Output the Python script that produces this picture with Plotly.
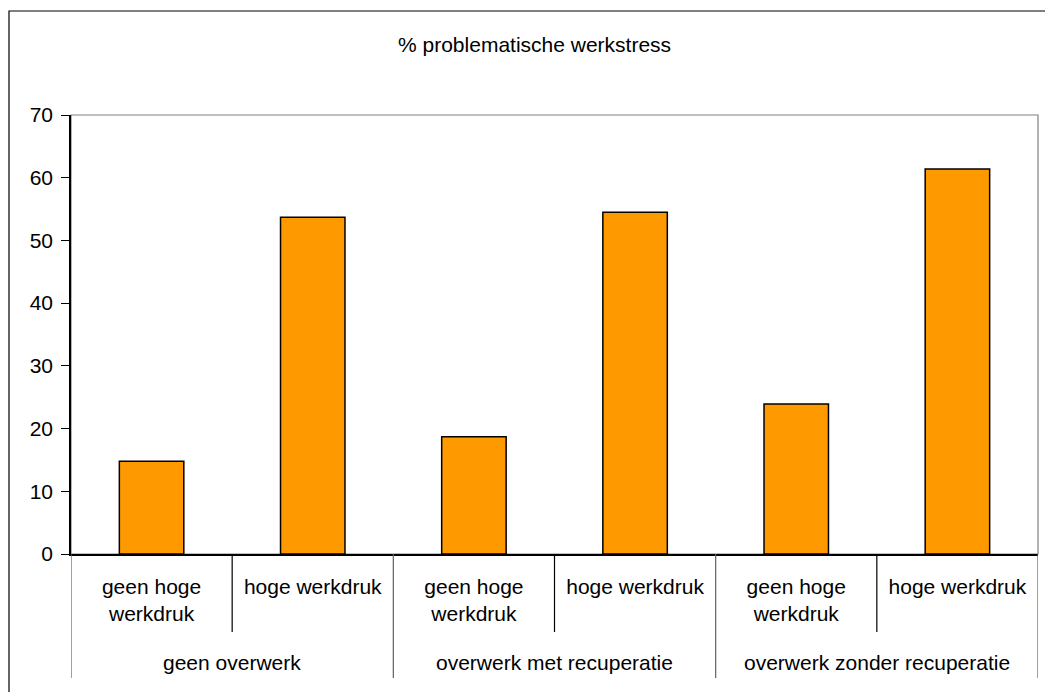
import plotly.graph_objects as go

# Data
groups = ["geen overwerk", "overwerk met recuperatie", "overwerk zonder recuperatie"]
subgroups = ["geen hoge<br>werkdruk", "hoge werkdruk"]
values = [14.8, 53.7, 18.7, 54.5, 23.9, 61.4]
y_ticks = [0, 10, 20, 30, 40, 50, 60, 70]
title_text = "% problematische werkstress"

W, H = 1045, 692
L, R, T, B = 71, 1038, 115, 554  # plot area in pixels
FONT = "Liberation Sans, Arial, sans-serif"
FS = 21


def px_x(p):
    return (p - L) / (R - L)


def px_y(p):
    return (B - p) / (B - T)


positions = list(range(len(values)))
tick_text = [subgroups[i % 2] for i in positions]

fig = go.Figure(
    go.Bar(
        x=positions,
        y=values,
        width=0.4,
        marker=dict(color="#FF9900", line=dict(color="#000000", width=1.5)),
        hoverinfo="y",
    )
)

shapes = []
# plot-area frame (grey top/right)
shapes.append(dict(type="rect", xref="paper", yref="paper", x0=0, x1=1, y0=0, y1=1,
                   line=dict(color="#808080", width=1.2), layer="below"))
# chart frame
shapes.append(dict(type="rect", xref="paper", yref="paper",
                   x0=px_x(9), x1=px_x(1065), y0=px_y(720), y1=px_y(11),
                   line=dict(color="#000000", width=1.2)))
# inner category separators
for xv in [0.5, 2.5, 4.5]:
    shapes.append(dict(type="line", xref="x", yref="paper", x0=xv, x1=xv,
                       y0=0, y1=px_y(632), line=dict(color="#000000", width=1.2)))
# outer group separators
for xv in [-0.5, 1.5, 3.5, 5.5]:
    shapes.append(dict(type="line", xref="x", yref="paper", x0=xv, x1=xv,
                       y0=0, y1=px_y(678), line=dict(color="#606060", width=1.2)))

annotations = [
    dict(text=title_text, xref="paper", yref="paper", x=px_x(534), y=px_y(44),
         showarrow=False, xanchor="center", yanchor="middle",
         font=dict(family=FONT, size=FS, color="#000000")),
]
for gi, g in enumerate(groups):
    annotations.append(dict(text=g, xref="x", yref="paper", x=2 * gi + 0.5, y=px_y(662),
                            showarrow=False, xanchor="center", yanchor="middle",
                            font=dict(family=FONT, size=FS, color="#000000")))

fig.update_layout(
    width=W, height=H,
    margin=dict(l=L, r=W - R, t=T, b=H - B),
    paper_bgcolor="white", plot_bgcolor="white",
    showlegend=False,
    bargap=0.6,
    shapes=shapes,
    annotations=annotations,
    font=dict(family=FONT, size=FS, color="#000000"),
)
fig.update_xaxes(
    range=[-0.5, 5.5], tickmode="array", tickvals=positions, ticktext=tick_text,
    showgrid=False, zeroline=False, showline=True, linecolor="#000000", linewidth=1.5,
    ticks="", ticklabelstandoff=13, tickfont=dict(family=FONT, size=FS),
)
fig.update_yaxes(
    range=[0, 70], tickmode="array", tickvals=y_ticks,
    showgrid=False, zeroline=False, showline=True, linecolor="#000000", linewidth=1.5,
    ticks="outside", ticklen=8, tickcolor="#000000", tickwidth=1.2,
    ticklabelstandoff=4, tickfont=dict(family=FONT, size=FS),
)

fig.write_html("out.html")
